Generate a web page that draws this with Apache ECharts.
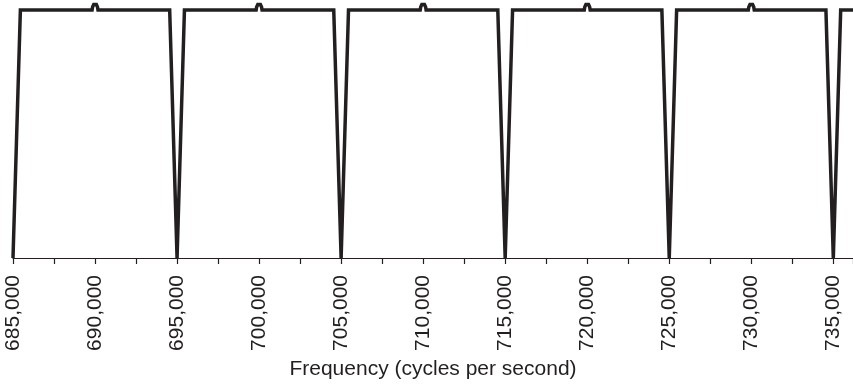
<!DOCTYPE html>
<html>
<head>
<meta charset="utf-8">
<script src="https://cdn.jsdelivr.net/npm/echarts@6/dist/echarts.min.js"></script>
<style>
  html, body { margin: 0; padding: 0; background: #fff; }
  #main { width: 853px; height: 387px; }
</style>
</head>
<body>
<div id="main"></div>
<script>
// frequency (Hz) and relative response
var freq = [
  685000, 685450,
  689820, 689850, 689920, 690000, 690080, 690150, 690180,
  694550, 695000, 695450,
  699820, 699850, 699920, 700000, 700080, 700150, 700180,
  704550, 705000, 705450,
  709820, 709850, 709920, 710000, 710080, 710150, 710180,
  714550, 715000, 715450,
  719820, 719850, 719920, 720000, 720080, 720150, 720180,
  724550, 725000, 725450,
  729820, 729850, 729920, 730000, 730080, 730150, 730180,
  734550, 735000, 735450, 736300
];
var level = [
  0, 1,
  1, 1.012, 1.022, 1.025, 1.022, 1.012, 1,
  1, 0, 1,
  1, 1.012, 1.022, 1.025, 1.022, 1.012, 1,
  1, 0, 1,
  1, 1.012, 1.022, 1.025, 1.022, 1.012, 1,
  1, 0, 1,
  1, 1.012, 1.022, 1.025, 1.022, 1.012, 1,
  1, 0, 1,
  1, 1.012, 1.022, 1.025, 1.022, 1.012, 1,
  1, 0, 1, 1
];
var xMin = 685000, xMax = 736200, xStep = 5000;
var axisName = 'Frequency (cycles per second)';

var points = freq.map(function (f, i) { return [f, level[i]]; });

var chart = echarts.init(document.getElementById('main'));
chart.setOption({
  animation: false,
  grid: { left: 13, right: 0, top: 0, bottom: 129, containLabel: false },
  xAxis: {
    type: 'value',
    min: xMin,
    max: xMax,
    interval: xStep,
    name: axisName,
    nameLocation: 'middle',
    nameGap: 101,
    nameTextStyle: { fontFamily: 'Liberation Sans', fontSize: 21, color: '#231f20' },
    axisLine: { lineStyle: { color: '#231f20', width: 1.2 } },
    axisTick: { inside: false, length: 6, lineStyle: { color: '#231f20', width: 1.2 } },
    minorTick: { show: true, splitNumber: 2, length: 6, lineStyle: { color: '#231f20', width: 1.2 } },
    splitLine: { show: false },
    axisLabel: {
      rotate: 90,
      margin: 17,
      fontFamily: 'Liberation Sans',
      fontSize: 21,
      color: '#231f20',
      showMaxLabel: false,
      formatter: function (v) { return v.toLocaleString('en-US'); }
    }
  },
  yAxis: {
    type: 'value',
    min: 0,
    max: 1.04,
    show: false
  },
  series: [{
    type: 'line',
    data: points,
    symbol: 'none',
    clip: false,
    lineStyle: { color: '#231f20', width: 3.5, join: 'miter' }
  }]
});
</script>
</body>
</html>
